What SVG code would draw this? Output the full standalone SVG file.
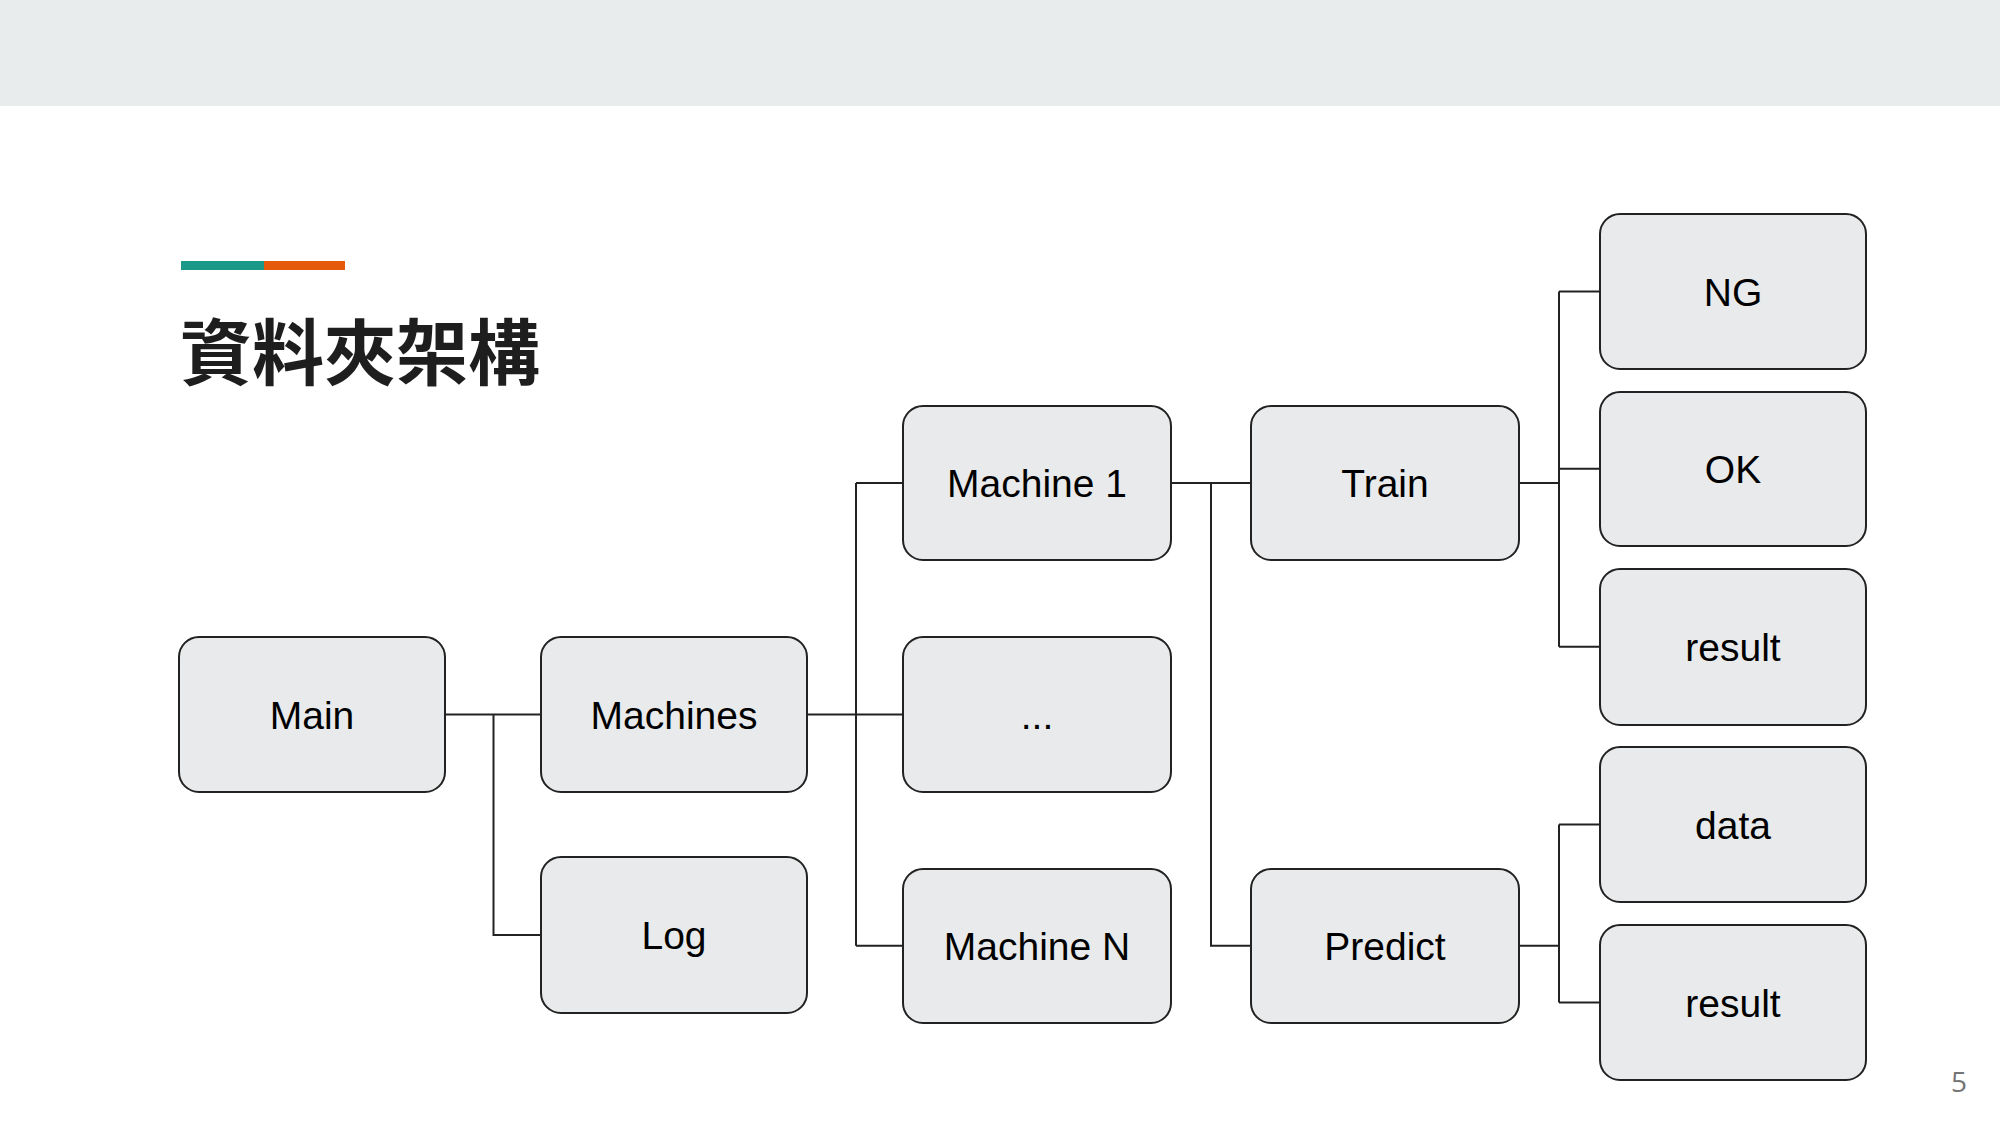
<svg xmlns="http://www.w3.org/2000/svg" width="2000" height="1125" viewBox="0 0 2000 1125">
<style>
.node rect{fill:#e8eaeb;stroke:#222;stroke-width:2}
.node text{font-family:"Liberation Sans",Arial,sans-serif;font-size:39px;fill:#000;text-anchor:middle}
#connectors path{fill:none;stroke:#222;stroke-width:2}
</style>
<rect x="0" y="0" width="2000" height="106" fill="#e8ecec"/>
<rect x="181" y="261" width="83" height="9" fill="#1a9988"/>
<rect x="264" y="261" width="81" height="9" fill="#e65a0c"/>
<text x="180" y="379" font-family="'Noto Sans CJK TC','Noto Sans CJK SC',sans-serif" font-weight="bold" font-size="72" fill="#1e1e1e">資料夾架構</text>
<text x="1967" y="1092" font-family="'Open Sans','Noto Sans',sans-serif" font-size="28" fill="#757575" text-anchor="end">5</text>
<g id="connectors">
<path d="M445 714.5H541M493.5 714.5V935H541"/>
<path d="M807 714.5H903M856 483V945.7M856 483H903M856 945.7H903"/>
<path d="M1171 483H1251M1211 483V945.7H1251"/>
<path d="M1519 483H1559M1559 291.5V646.7M1559 291.5H1600M1559 468.8H1600M1559 646.7H1600"/>
<path d="M1519 945.7H1559M1559 824.6V1002.6M1559 824.6H1600M1559 1002.6H1600"/>
</g>
<g id="node-main" class="node"><rect x="179" y="637" width="266" height="155" rx="20"/><text x="312" y="729">Main</text></g>
<g id="node-machines" class="node"><rect x="541" y="637" width="266" height="155" rx="20"/><text x="674" y="729">Machines</text></g>
<g id="node-log" class="node"><rect x="541" y="857" width="266" height="156" rx="20"/><text x="674" y="949">Log</text></g>
<g id="node-machine1" class="node"><rect x="903" y="406" width="268" height="154" rx="20"/><text x="1037" y="497">Machine 1</text></g>
<g id="node-dots" class="node"><rect x="903" y="637" width="268" height="155" rx="20"/><text x="1037" y="729">...</text></g>
<g id="node-machinen" class="node"><rect x="903" y="869" width="268" height="154" rx="20"/><text x="1037" y="960">Machine N</text></g>
<g id="node-train" class="node"><rect x="1251" y="406" width="268" height="154" rx="20"/><text x="1385" y="497">Train</text></g>
<g id="node-predict" class="node"><rect x="1251" y="869" width="268" height="154" rx="20"/><text x="1385" y="960">Predict</text></g>
<g id="node-ng" class="node"><rect x="1600" y="214" width="266" height="155" rx="20"/><text x="1733" y="306">NG</text></g>
<g id="node-ok" class="node"><rect x="1600" y="392" width="266" height="154" rx="20"/><text x="1733" y="483">OK</text></g>
<g id="node-result-train" class="node"><rect x="1600" y="569" width="266" height="156" rx="20"/><text x="1733" y="661">result</text></g>
<g id="node-data" class="node"><rect x="1600" y="747" width="266" height="155" rx="20"/><text x="1733" y="839">data</text></g>
<g id="node-result-predict" class="node"><rect x="1600" y="925" width="266" height="155" rx="20"/><text x="1733" y="1017">result</text></g>
</svg>
